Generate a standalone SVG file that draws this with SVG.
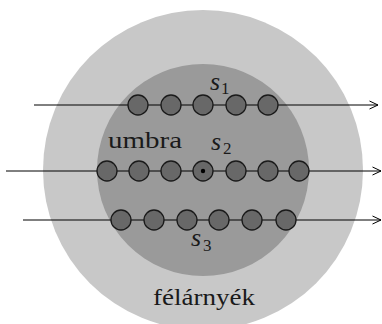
<svg xmlns="http://www.w3.org/2000/svg" width="382" height="324" viewBox="0 0 382 324">
<style>
.pen{fill:#c8c8c8}
.umb{fill:#9a9a9a}
.bead{fill:#686868;stroke:#1a1a1a;stroke-width:1.3}
.ray{stroke:#000;stroke-width:1;fill:none}
.lbl{font-family:"Liberation Serif","Times New Roman",serif;fill:#1a1a1a}
.m{font-style:italic;font-size:26px}
.sub{font-size:17px}
</style>
<defs>
<marker id="arr" viewBox="0 0 10 10" refX="9.5" refY="5" markerWidth="10" markerHeight="10" markerUnits="userSpaceOnUse" orient="auto">
<path d="M1,1 L9.5,5 L1,9" fill="none" stroke="#000" stroke-width="1"/>
</marker>
</defs>
<g id="penumbra"><circle class="pen" cx="203" cy="170" r="160"/></g>
<g id="umbra"><circle class="umb" cx="203" cy="170" r="106"/></g>
<g id="connectors">
<line class="ray" x1="34" y1="105" x2="378" y2="105" marker-end="url(#arr)"/>
<line class="ray" x1="6" y1="171" x2="381" y2="171" marker-end="url(#arr)"/>
<line class="ray" x1="23" y1="220" x2="381" y2="220" marker-end="url(#arr)"/>
</g>
<g id="s1-beads">
<circle class="bead" cx="138" cy="105" r="10"/>
<circle class="bead" cx="171" cy="105" r="10"/>
<circle class="bead" cx="203" cy="105" r="10"/>
<circle class="bead" cx="236" cy="105" r="10"/>
<circle class="bead" cx="268" cy="105" r="10"/>
</g>
<g id="s2-beads">
<circle class="bead" cx="107" cy="171" r="10"/>
<circle class="bead" cx="139" cy="171" r="10"/>
<circle class="bead" cx="171" cy="171" r="10"/>
<circle class="bead" cx="203" cy="171" r="10"/>
<circle cx="203" cy="171" r="2.2" fill="#000"/>
<circle class="bead" cx="236" cy="171" r="10"/>
<circle class="bead" cx="268" cy="171" r="10"/>
<circle class="bead" cx="299" cy="171" r="10"/>
</g>
<g id="s3-beads">
<circle class="bead" cx="121" cy="220" r="10"/>
<circle class="bead" cx="154" cy="220" r="10"/>
<circle class="bead" cx="187" cy="220" r="10"/>
<circle class="bead" cx="219" cy="220" r="10"/>
<circle class="bead" cx="252" cy="220" r="10"/>
<circle class="bead" cx="286" cy="220" r="10"/>
</g>
<g id="labels">
<text class="lbl m" x="210" y="90">s</text><text class="lbl sub" x="221" y="94">1</text>
<text class="lbl m" x="211" y="150">s</text><text class="lbl sub" x="223" y="154">2</text>
<text class="lbl m" x="191" y="246">s</text><text class="lbl sub" x="203" y="251">3</text>
<text class="lbl" x="108" y="148" font-size="24" textLength="74" lengthAdjust="spacingAndGlyphs">umbra</text>
<text class="lbl" x="153" y="305" font-size="24" textLength="102" lengthAdjust="spacingAndGlyphs">félárnyék</text>
</g>
</svg>
